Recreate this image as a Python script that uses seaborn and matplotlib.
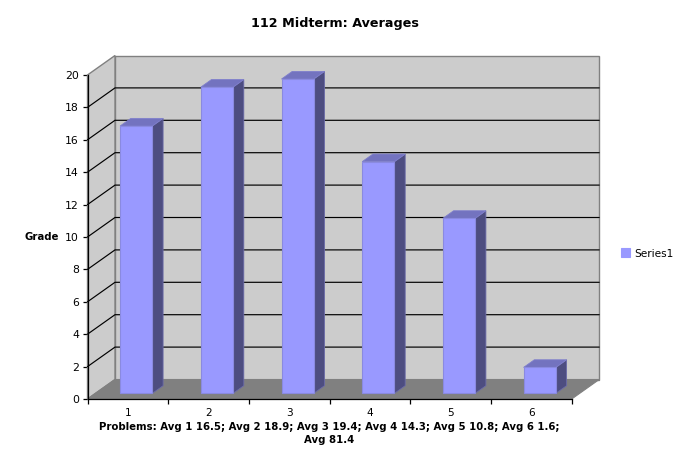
import matplotlib
matplotlib.use("Agg")
import matplotlib.pyplot as plt
import pandas as pd
import seaborn as sns
from matplotlib.patches import Polygon

categories = ["1", "2", "3", "4", "5", "6"]
grades = [16.5, 18.9, 19.4, 14.3, 10.8, 1.6]
series_name = "Series1"
y_ticks = list(range(0, 21, 2))
title = "112 Midterm: Averages"
x_label = "Problems: Avg 1 16.5; Avg 2 18.9; Avg 3 19.4; Avg 4 14.3; Avg 5 10.8; Avg 6 1.6;\nAvg 81.4"
y_label = "Grade"

W, H = 683, 467
sns.set_theme(style="white")
plt.rcParams["font.family"] = ["DejaVu Sans"]

fig = plt.figure(figsize=(W / 100, H / 100), dpi=100, facecolor="white")
L, R, T, B = 87.5, 571.7, 75.0, 399.0
ax = fig.add_axes([L / W, 1 - B / H, (R - L) / W, (B - T) / H])
ax.patch.set_alpha(0)

df = pd.DataFrame({"problem": categories, "grade": grades})
sns.barplot(data=df, x="problem", y="grade", width=0.4, color="#9999FF",
            saturation=1, ax=ax, zorder=5, label=series_name,
            edgecolor="#8A8AE0", linewidth=0.8)
ax.set_xlim(-0.5, 5.5)
ax.set_ylim(0, 20)

px_x = (R - L) / 6
px_y = (B - T) / 20
DX, DY = 27.5 / px_x, 19.5 / px_y          # full depth of the chart box
OX, OY = 8.4 / px_x, 5.7 / px_y            # bar offset from the front plane
BX, BY = 10.7 / px_x, 7.6 / px_y           # depth of a bar
x0, x1 = -0.5, 5.5

wall_edge = "#808080"
ax.add_patch(Polygon([(x0 + DX, DY), (x1 + DX, DY), (x1 + DX, 20 + DY), (x0 + DX, 20 + DY)],
                     closed=True, fc="#CCCCCC", ec=wall_edge, lw=1.0, zorder=1, clip_on=False))
ax.add_patch(Polygon([(x0, 0), (x0 + DX, DY), (x0 + DX, 20 + DY), (x0, 20)],
                     closed=True, fc="#CCCCCC", ec=wall_edge, lw=1.0, zorder=1, clip_on=False))
ax.add_patch(Polygon([(x0, 0), (x0 + DX, DY), (x1 + DX, DY), (x1, 0)],
                     closed=True, fc="#808080", ec=wall_edge, lw=0.8, zorder=1.5, clip_on=False))
for v in y_ticks[1:-1]:
    ax.plot([x0, x0 + DX, x1 + DX], [v, v + DY, v + DY], color="black", lw=0.85,
            zorder=2, clip_on=False, solid_joinstyle="miter")

for bar in ax.patches:
    if bar.get_zorder() != 5:
        continue
    bar.set_x(bar.get_x() + OX)
    bar.set_y(bar.get_y() + OY)
    bar.set_clip_on(False)
    a, b = bar.get_x(), bar.get_x() + bar.get_width()
    lo, hi = bar.get_y(), bar.get_y() + bar.get_height()
    ax.add_patch(Polygon([(b, lo), (b + BX, lo + BY), (b + BX, hi + BY), (b, hi)], closed=True,
                         fc="#4D4D80", ec="#6A6AA8", lw=0.6, zorder=4, clip_on=False))
    ax.add_patch(Polygon([(a, hi), (a + BX, hi + BY), (b + BX, hi + BY), (b, hi)], closed=True,
                         fc="#7373BF", ec="#7F7FCC", lw=0.6, zorder=4, clip_on=False))

sns.despine(ax=ax, top=True, right=True)
for s in ("left", "bottom"):
    ax.spines[s].set_color("black")
    ax.spines[s].set_linewidth(0.9)
    ax.spines[s].set_zorder(6)

ax.set_yticks(y_ticks)
ax.set_xticks(range(len(categories)))
ax.set_xticklabels(categories)
ax.set_xticks([x0 + i for i in range(len(categories) + 1)], minor=True)
ax.tick_params(axis="x", which="major", length=0, pad=6.5, labelsize=7.6, colors="black")
ax.tick_params(axis="x", which="minor", length=3.6, width=0.9, color="black", bottom=True)
ax.tick_params(axis="y", which="major", length=3.6, width=0.9, color="black", left=True,
               pad=2.5, labelsize=7.8, labelcolor="black")
ax.set_xlabel("")
ax.set_ylabel("")

fig.text(334.5 / W, 1 - 23 / H, title, ha="center", va="center", fontsize=9.2,
         fontweight="bold", color="black")
fig.text(329.5 / W, 1 - 433.5 / H, x_label, ha="center", va="center", fontsize=7.25,
         fontweight="bold", color="black", linespacing=1.3)
fig.text(42 / W, 1 - 237 / H, y_label, ha="center", va="center", fontsize=7.3,
         fontweight="bold", color="black")

leg = ax.legend(loc="center left", bbox_to_anchor=(621 / W, 1 - 253.5 / H),
                bbox_transform=fig.transFigure, frameon=False, fontsize=7.6,
                handlelength=0.85, handleheight=0.9, handletextpad=0.4,
                borderpad=0, borderaxespad=0)
for t in leg.get_texts():
    t.set_color("black")
for h in leg.legend_handles:
    h.set_edgecolor("#9999FF")

fig.savefig("out.png", dpi=100, facecolor="white")
